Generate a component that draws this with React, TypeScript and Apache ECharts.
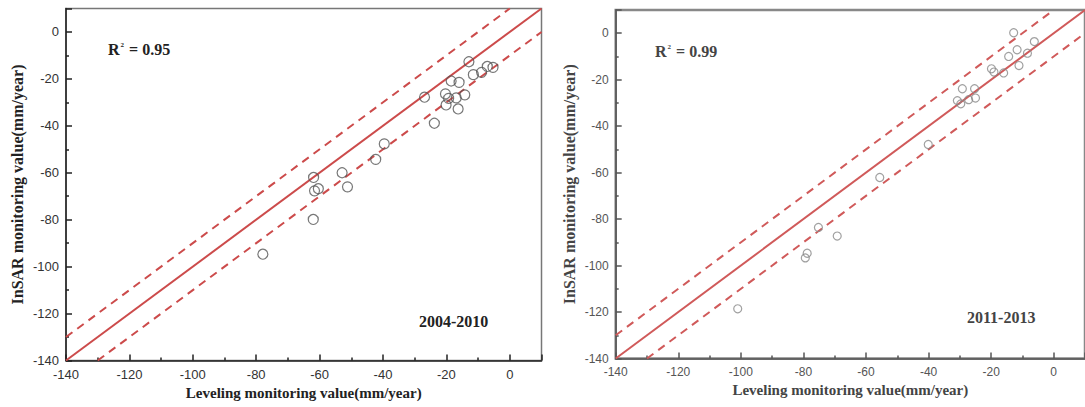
import React, { useEffect, useRef } from "react";
import * as echarts from "echarts";

// Panel 1: 2004-2010 (Leveling, InSAR)
const levelingA = [-12.9, -7.1, -5.3, -8.9, -11.5, -18.5, -16.0, -20.3, -14.2, -19.3, -16.9, -20.1, -16.3, -26.9, -23.8, -39.6, -42.3, -52.9, -51.2, -61.9, -60.4, -61.6, -62.0, -77.9];
const insarA = [-12.7, -14.7, -15.1, -17.2, -18.2, -20.9, -21.5, -26.4, -26.8, -28.3, -28.1, -31.1, -32.8, -27.8, -38.9, -47.7, -54.3, -60.0, -66.0, -62.0, -66.8, -67.7, -79.9, -94.7];

// Panel 2: 2011-2013
const levelingB = [-12.8, -6.2, -11.7, -8.4, -14.4, -11.1, -19.9, -19.1, -16.0, -29.2, -25.3, -30.8, -27.2, -29.7, -25.0, -40.1, -55.6, -75.2, -69.2, -78.8, -79.4, -101.0];
const insarB = [0.2, -3.6, -7.1, -8.6, -10.0, -13.9, -15.3, -16.7, -17.1, -23.9, -23.9, -29.0, -28.6, -30.4, -27.9, -47.9, -62.1, -83.6, -87.3, -94.7, -96.7, -118.6];

// 1:1 line and +/-10 mm/year bounds
const fitLine = [[-140, -140], [10, 10]];
const upperBound = [[-140, -130], [0, 10]];
const lowerBound = [[-130, -140], [10, 0]];

const axisMin = -140;
const axisMax = 10;
const tickInterval = 20;

const xTitle = "Leveling monitoring value(mm/year)";
const yTitle = "InSAR monitoring value(mm/year)";
const panelLabels = ["2004-2010", "2011-2013"];
const r2Values = ["0.95", "0.99"];

export default function App() {
  const ref = useRef<HTMLDivElement>(null);
  useEffect(() => {
    document.body.style.margin = "0";
    const chart = echarts.init(ref.current!, undefined, { renderer: "svg" });
    const pts = (xs: number[], ys: number[]) => xs.map((x, i) => [x, ys[i]]);
    const serif = "Liberation Serif, Times New Roman, serif";
    const sans = "Liberation Sans, Arial, sans-serif";

    const makeAxis = (gi: number, isX: boolean, faded: boolean) => ({
      type: "value",
      gridIndex: gi,
      min: axisMin,
      max: axisMax,
      interval: tickInterval,
      name: isX ? xTitle : yTitle,
      nameLocation: "middle",
      nameGap: isX ? 24 : (faded ? 38 : 41),
      nameTextStyle: {
        fontFamily: serif,
        fontWeight: "bold",
        fontSize: isX ? 15 : 16,
        color: faded ? "#444" : "#222",
      },
      axisLine: { show: true, onZero: false, lineStyle: { color: faded ? "#555" : "#222", width: 1.5 } },
      axisTick: { show: true, inside: true, length: 6, lineStyle: { color: faded ? "#555" : "#222", width: 1.5 } },
      minorTick: { show: true, splitNumber: 2, length: 3, lineStyle: { color: faded ? "#555" : "#222", width: 1.5 } },
      splitLine: { show: false },
      axisLabel: {
        showMaxLabel: false,
        margin: 7,
        fontFamily: sans,
        fontSize: faded ? 12 : 13,
        color: faded ? "#555" : "#333",
      },
    });

    const lineSeries = (gi: number, data: number[][], dashed: boolean, color: string) => ({
      type: "line",
      xAxisIndex: gi,
      yAxisIndex: gi,
      data,
      symbol: "none",
      silent: true,
      lineStyle: { color, width: 2, type: dashed ? [8, 6] : "solid" },
      z: 2,
    });

    const scatter = (gi: number, data: number[][], size: number, color: string) => ({
      type: "scatter",
      xAxisIndex: gi,
      yAxisIndex: gi,
      data,
      symbol: "circle",
      symbolSize: size,
      itemStyle: { color: "rgba(0,0,0,0)", borderColor: color, borderWidth: 1.2 },
      z: 3,
    });

    const redA = "#cc4b4b";
    const redB = "#d05a5a";

    const r2Text = (x: number, y: number, v: string, color: string) => ({
      type: "text",
      left: x,
      top: y,
      style: {
        text: "{r|R}{s|2}{r| = " + v + "}",
        rich: {
          r: { fontFamily: serif, fontWeight: "bold", fontSize: 16, fill: color, verticalAlign: "bottom" },
          s: { fontFamily: serif, fontWeight: "bold", fontSize: 7, fill: color, verticalAlign: "top", padding: [0, 1, 8, 1] },
        },
      },
    });

    chart.setOption({
      animation: false,
      grid: [
        { left: 66, top: 8.5, width: 475.5, height: 352, show: true, borderColor: "#777", borderWidth: 1.5, backgroundColor: "transparent" },
        { left: 615.7, top: 10, width: 471.7, height: 348.5, show: true, borderColor: "#888", borderWidth: 2.5, backgroundColor: "transparent" },
      ],
      xAxis: [makeAxis(0, true, false), makeAxis(1, true, true)],
      yAxis: [makeAxis(0, false, false), makeAxis(1, false, true)],
      series: [
        lineSeries(0, fitLine, false, redA),
        lineSeries(0, upperBound, true, redA),
        lineSeries(0, lowerBound, true, redA),
        scatter(0, pts(levelingA, insarA), 10, "#555"),
        lineSeries(1, fitLine, false, redB),
        lineSeries(1, upperBound, true, redB),
        lineSeries(1, lowerBound, true, redB),
        scatter(1, pts(levelingB, insarB), 8, "#888"),
      ],
      graphic: [
        r2Text(108, 41, r2Values[0], "#222"),
        r2Text(655, 43, r2Values[1], "#444"),
        {
          type: "text",
          left: 419,
          top: 313,
          style: { text: panelLabels[0], fontFamily: serif, fontWeight: "bold", fontSize: 16, fill: "#222" },
        },
        {
          type: "text",
          left: 967,
          top: 309,
          style: { text: panelLabels[1], fontFamily: serif, fontWeight: "bold", fontSize: 16, fill: "#444" },
        },
      ],
    });
    return () => chart.dispose();
  }, []);
  return <div ref={ref} style={{ width: 1085, height: 407 }} />;
}
